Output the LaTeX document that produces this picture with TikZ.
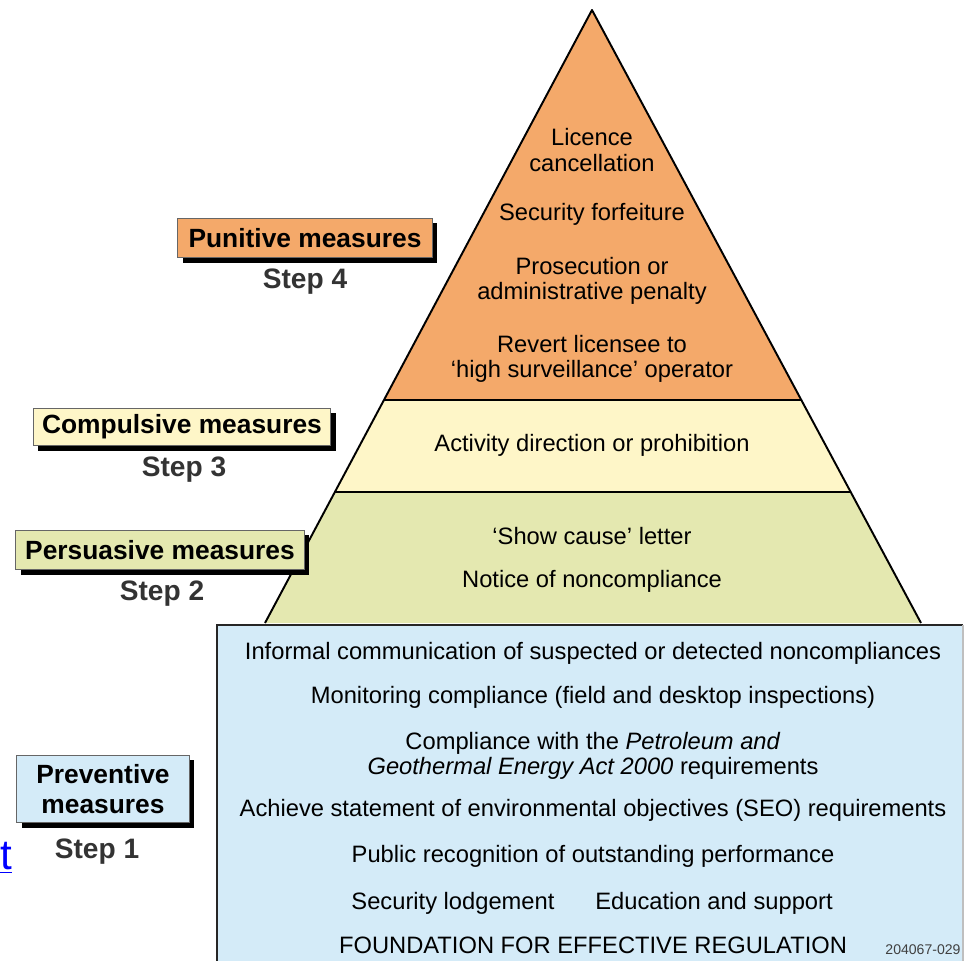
\documentclass[tikz,border=0pt]{standalone}
\usepackage{fontspec}
\setmainfont{Liberation Sans}
\usetikzlibrary{shadows}

\definecolor{punitive}{HTML}{F4A96A}
\definecolor{compulsive}{HTML}{FEF6C8}
\definecolor{persuasive}{HTML}{E4E8B0}
\definecolor{preventive}{HTML}{D4EBF8}

\tikzset{
  lvl/.style={font=\fontsize{13.5}{14.5}\selectfont, align=center, inner sep=0pt},
  lblbox/.style={draw=black!60, line width=0.6pt, inner sep=0pt, align=center,
    font=\fontsize{15}{17}\selectfont\bfseries,
    drop shadow={shadow xshift=2.8pt, shadow yshift=-2.8pt, fill=black, opacity=1}},
  steplbl/.style={font=\fontsize{16}{18}\selectfont\bfseries, text=black!80, inner sep=0pt}
}

\begin{document}
\begin{tikzpicture}[x=0.02cm,y=-0.02cm]
\useasboundingbox (0,0) rectangle (965,961);

% pyramid
\coordinate (apex) at (592,10);
\coordinate (l1) at (384,400); \coordinate (r1) at (801,400);
\coordinate (l2) at (335,492); \coordinate (r2) at (851,492);
\coordinate (l3) at (265,623); \coordinate (r3) at (921,623);
\fill [persuasive] (l2) -- (r2) -- (r3) -- (l3) -- cycle;
\fill [compulsive] (l1) -- (r1) -- (r2) -- (l2) -- cycle;
\fill [punitive] (apex) -- (r1) -- (l1) -- cycle;
\draw [line width=1.1pt, line join=round] (l3) -- (apex) -- (r3);
\draw [line width=1.1pt] (l1) -- (r1);
\draw [line width=1.1pt] (l2) -- (r2);

% foundation box
\fill [preventive] (217,625) rectangle (963,961);
\draw [draw=black!85, line width=1.3pt] (217,961) -- (217,625) -- (963,625);
\draw [draw=black!25, line width=0.6pt] (963,625) -- (963,961);

% step 4
\node [lvl] (lic) at (592,150) {Licence\\cancellation};
\node [lvl] (sec) at (592,214) {Security forfeiture};
\node [lvl] (pro) at (592,281) {Prosecution or\\administrative penalty};
\node [lvl] (rev) at (592,359) {Revert licensee to\\`high surveillance' operator};

% step 3
\node [lvl] (act) at (592,445) {Activity direction or prohibition};

% step 2
\node [lvl] (show) at (592,536) {`Show cause' letter};
\node [lvl] (notice) at (592,581) {Notice of noncompliance};

% step 1
\node [lvl] (inf) at (593,653) {Informal communication of suspected or detected noncompliances};
\node [lvl] (mon) at (593,697) {Monitoring compliance (field and desktop inspections)};
\node [lvl] (comp) at (593,756) {Compliance with the \emph{Petroleum and}\\\emph{Geothermal Energy Act 2000} requirements};
\node [lvl] (seo) at (593,810) {Achieve statement of environmental objectives (SEO) requirements};
\node [lvl] (pub) at (593,856) {Public recognition of outstanding performance};
\node [lvl] (lodge) at (453,903) {Security lodgement};
\node [lvl] (edu) at (714,903) {Education and support};
\node [lvl] (found) at (593,945) {FOUNDATION FOR EFFECTIVE REGULATION};
\node [font=\fontsize{8}{9}\selectfont, text=black!75, inner sep=0pt] (code) at (923,950) {204067-029};

% labels on the left
\node [lblbox, fill=punitive, minimum width=145pt, minimum height=22.7pt] (pun) at (305,238) {Punitive measures};
\node [steplbl] (s4) at (305,282) {Step 4};
\node [lblbox, fill=compulsive, minimum width=169.5pt, minimum height=21.5pt] (cmp) at (182,427) {Compulsive measures};
\node [steplbl] (s3) at (184,470) {Step 3};
\node [lblbox, fill=persuasive, minimum width=164pt, minimum height=22.7pt] (per) at (160,550) {Persuasive measures};
\node [steplbl] (s2) at (162,594) {Step 2};
\node [lblbox, fill=preventive, minimum width=98pt, minimum height=38.5pt] (pre) at (103,789) {Preventive\\measures};
\node [steplbl] (s1) at (97,852) {Step 1};

% stray link fragment at the left edge
\node [font=\fontsize{24}{26}\selectfont, text=blue, inner sep=0pt, anchor=west] (frag) at (0,858) {\underline{t}};

\end{tikzpicture}
\end{document}
